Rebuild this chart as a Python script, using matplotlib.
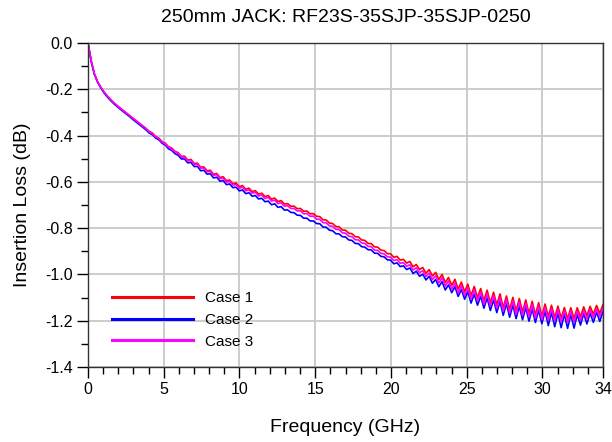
import numpy as np
import matplotlib
matplotlib.use("Agg")
import matplotlib.pyplot as plt
from matplotlib.lines import Line2D
from matplotlib.ticker import MultipleLocator, FormatStrFormatter

plt.rcParams["font.family"] = ["Liberation Sans", "DejaVu Sans"]
plt.rcParams["axes.unicode_minus"] = False

# sweep grid, 0 - 34 GHz
freq_ghz = np.linspace(0, 34, 161)

case1_db = [
    0.000, -0.078, -0.134, -0.168, -0.192, -0.212, -0.229, -0.244, -0.258, -0.270,
    -0.281, -0.292, -0.303, -0.314, -0.325, -0.336, -0.347, -0.358, -0.369, -0.382,
    -0.389, -0.404, -0.411, -0.426, -0.433, -0.448, -0.454, -0.468, -0.474, -0.490,
    -0.489, -0.506, -0.503, -0.521, -0.519, -0.537, -0.535, -0.552, -0.550, -0.567,
    -0.564, -0.581, -0.578, -0.595, -0.592, -0.608, -0.605, -0.621, -0.616, -0.632,
    -0.627, -0.642, -0.638, -0.653, -0.649, -0.664, -0.659, -0.675, -0.670, -0.685,
    -0.681, -0.696, -0.694, -0.705, -0.705, -0.716, -0.715, -0.727, -0.726, -0.738,
    -0.737, -0.749, -0.750, -0.764, -0.765, -0.778, -0.780, -0.793, -0.794, -0.808,
    -0.809, -0.822, -0.824, -0.837, -0.838, -0.851, -0.853, -0.866, -0.867, -0.881,
    -0.882, -0.895, -0.897, -0.910, -0.911, -0.926, -0.922, -0.938, -0.935, -0.951,
    -0.944, -0.967, -0.957, -0.979, -0.970, -0.995, -0.979, -1.007, -0.991, -1.022,
    -1.000, -1.035, -1.013, -1.047, -1.021, -1.063, -1.033, -1.075, -1.042, -1.091,
    -1.052, -1.100, -1.061, -1.113, -1.068, -1.123, -1.077, -1.132, -1.084, -1.144,
    -1.093, -1.152, -1.099, -1.158, -1.104, -1.163, -1.110, -1.169, -1.116, -1.175,
    -1.122, -1.180, -1.128, -1.182, -1.133, -1.187, -1.137, -1.189, -1.143, -1.192,
    -1.144, -1.191, -1.144, -1.184, -1.140, -1.179, -1.138, -1.172, -1.134, -1.168,
    -1.130,
]

case2_db = [
    0.000, -0.080, -0.136, -0.170, -0.194, -0.216, -0.233, -0.248, -0.262, -0.274,
    -0.286, -0.297, -0.308, -0.319, -0.331, -0.342, -0.353, -0.364, -0.375, -0.389,
    -0.396, -0.411, -0.418, -0.433, -0.441, -0.457, -0.464, -0.478, -0.485, -0.501,
    -0.501, -0.518, -0.516, -0.534, -0.533, -0.552, -0.550, -0.567, -0.565, -0.583,
    -0.580, -0.597, -0.594, -0.612, -0.609, -0.625, -0.623, -0.639, -0.635, -0.651,
    -0.647, -0.662, -0.659, -0.674, -0.671, -0.686, -0.683, -0.699, -0.695, -0.710,
    -0.707, -0.722, -0.721, -0.732, -0.733, -0.744, -0.745, -0.757, -0.757, -0.769,
    -0.769, -0.780, -0.781, -0.795, -0.796, -0.809, -0.811, -0.824, -0.825, -0.837,
    -0.838, -0.851, -0.853, -0.866, -0.867, -0.880, -0.882, -0.893, -0.894, -0.908,
    -0.909, -0.922, -0.924, -0.937, -0.938, -0.954, -0.950, -0.966, -0.963, -0.979,
    -0.972, -0.996, -0.986, -1.008, -0.999, -1.024, -1.008, -1.038, -1.022, -1.053,
    -1.031, -1.067, -1.045, -1.079, -1.053, -1.095, -1.065, -1.107, -1.075, -1.124,
    -1.085, -1.133, -1.094, -1.146, -1.101, -1.156, -1.110, -1.165, -1.117, -1.177,
    -1.126, -1.185, -1.132, -1.191, -1.137, -1.196, -1.143, -1.202, -1.149, -1.208,
    -1.155, -1.213, -1.159, -1.221, -1.164, -1.226, -1.168, -1.230, -1.172, -1.233,
    -1.173, -1.232, -1.173, -1.219, -1.169, -1.214, -1.167, -1.207, -1.163, -1.203,
    -1.159,
]

case3_db = [
    0.000, -0.078, -0.134, -0.168, -0.192, -0.212, -0.229, -0.244, -0.258, -0.270,
    -0.282, -0.293, -0.304, -0.315, -0.326, -0.337, -0.348, -0.359, -0.370, -0.384,
    -0.391, -0.406, -0.413, -0.428, -0.436, -0.451, -0.457, -0.471, -0.477, -0.493,
    -0.493, -0.510, -0.507, -0.525, -0.523, -0.541, -0.540, -0.557, -0.555, -0.572,
    -0.569, -0.586, -0.584, -0.601, -0.598, -0.614, -0.612, -0.628, -0.623, -0.639,
    -0.634, -0.649, -0.645, -0.661, -0.657, -0.672, -0.667, -0.683, -0.679, -0.694,
    -0.690, -0.705, -0.703, -0.715, -0.715, -0.726, -0.725, -0.738, -0.737, -0.749,
    -0.748, -0.761, -0.762, -0.776, -0.777, -0.790, -0.792, -0.805, -0.806, -0.820,
    -0.822, -0.835, -0.837, -0.850, -0.851, -0.864, -0.866, -0.879, -0.880, -0.895,
    -0.896, -0.909, -0.911, -0.924, -0.925, -0.940, -0.936, -0.952, -0.949, -0.965,
    -0.958, -0.981, -0.971, -0.993, -0.984, -1.009, -0.994, -1.022, -1.006, -1.037,
    -1.015, -1.050, -1.028, -1.063, -1.037, -1.079, -1.049, -1.091, -1.057, -1.106,
    -1.067, -1.115, -1.076, -1.128, -1.083, -1.138, -1.092, -1.147, -1.099, -1.159,
    -1.108, -1.167, -1.114, -1.173, -1.119, -1.178, -1.125, -1.184, -1.131, -1.190,
    -1.137, -1.195, -1.143, -1.197, -1.148, -1.202, -1.152, -1.204, -1.158, -1.207,
    -1.159, -1.206, -1.159, -1.199, -1.155, -1.194, -1.153, -1.187, -1.149, -1.183,
    -1.145,
]

labels = ["Case 1", "Case 2", "Case 3"]
colors = ["#ff0000", "#0000ff", "#ff00ff"]
series = [case1_db, case2_db, case3_db]

fig = plt.figure(figsize=(6.12, 4.42), dpi=100)
ax = fig.add_axes([0.1438, 0.1697, 0.8415, 0.733])

for vals, col in zip(series, colors):
    ax.plot(freq_ghz, vals, color=col, lw=1.2)

ax.set_xlim(0, 34)
ax.set_ylim(-1.4, 0)
ax.xaxis.set_major_locator(MultipleLocator(5))
ax.xaxis.set_minor_locator(MultipleLocator(1))
ax.yaxis.set_major_locator(MultipleLocator(0.2))
ax.yaxis.set_minor_locator(MultipleLocator(0.1))
ax.yaxis.set_major_formatter(FormatStrFormatter("%.1f"))
ax.set_xticks([0, 5, 10, 15, 20, 25, 30, 34])

ax.grid(True, which="major", color="#c8c8c8", lw=1.3)
ax.set_axisbelow(True)
ax.tick_params(which="major", direction="out", length=8, width=1, labelsize=11.5, pad=3)
ax.tick_params(which="minor", direction="out", length=5, width=1)
for sp in ax.spines.values():
    sp.set_color("#333333")
    sp.set_linewidth(1.0)

ax.set_xlabel("Frequency (GHz)", fontsize=14)
ax.xaxis.set_label_coords(0.5, -0.188)
ax.xaxis.label.set_va("center")
ax.set_ylabel("Insertion Loss (dB)", fontsize=14)
ax.yaxis.set_label_coords(-0.128, 0.5)
ax.yaxis.label.set_va("center")
ax.set_title("250mm JACK: RF23S-35SJP-35SJP-0250", fontsize=14, y=1.080, va="center", pad=0)

handles = [Line2D([], [], color=c, lw=2.2) for c in colors]
ax.legend(handles, labels, loc="center left", bbox_to_anchor=(0.047, 0.145),
          frameon=False, fontsize=11, handlelength=5.3, handletextpad=0.8,
          labelspacing=0.5, borderpad=0, borderaxespad=0)

fig.savefig("out.png", dpi=100)
